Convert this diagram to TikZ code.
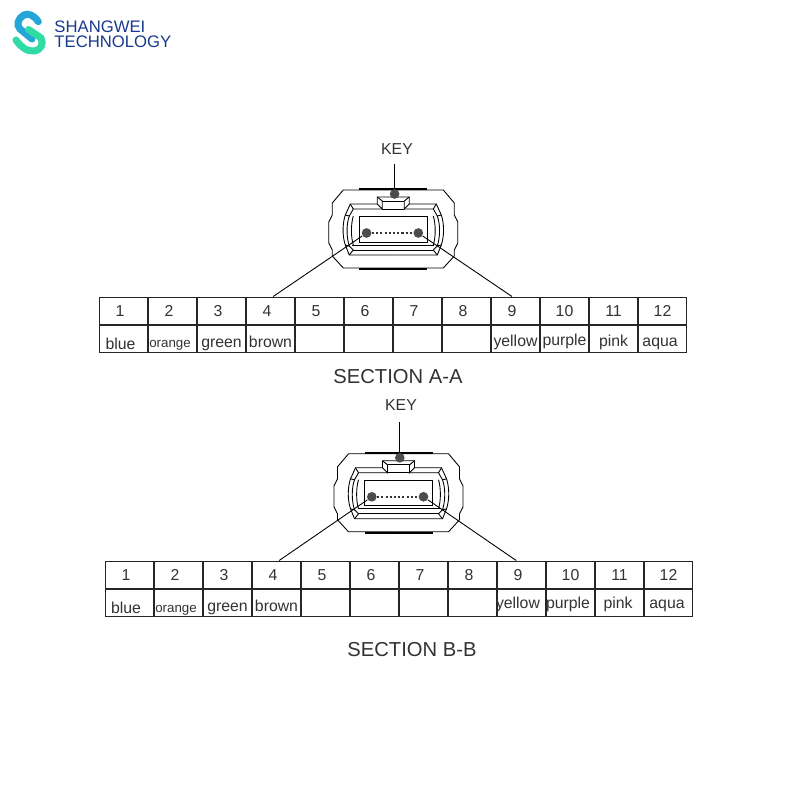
\documentclass[tikz,border=0pt]{standalone}
\usepackage{fontspec}
\setmainfont{Liberation Sans}
\usepackage{xcolor}
\definecolor{logoblue}{RGB}{36,166,216}
\definecolor{logogreen}{RGB}{48,220,165}
\definecolor{logonavy}{RGB}{24,58,140}
\definecolor{inkgray}{RGB}{50,50,50}
\newcommand{\cellword}[3]{\raisebox{\dimexpr-#1-0.6pt\relax}[0pt][0pt]{\kern-#2 #3}}
\tikzset{
    cellbox/.style={draw,black!85,line width=0.6pt,text=inkgray,minimum width=27.78pt,minimum height=15.87pt,inner sep=0pt,font=\fontsize{9}{10}\selectfont},
    numcell/.style={cellbox,execute at begin node={\kern-4pt}},
    smallcell/.style={cellbox,font=\fontsize{7.6}{9}\selectfont},
    fibredot/.style={circle,fill=black!70,inner sep=0pt,minimum size=5.5pt},
    keydot/.style={circle,fill=black!70,inner sep=0pt,minimum size=5.5pt},
    fibreline/.style={line width=1.1pt,dash pattern=on 1.2pt off 1.2pt,black!80},
    titletext/.style={text=inkgray,font=\fontsize{11.5}{13}\selectfont},
    keytext/.style={text=inkgray,font=\fontsize{9}{10}\selectfont},
    logotext/.style={text=logonavy,anchor=west,inner sep=0pt,font=\fontsize{9.5}{11}\selectfont},
    facehalf/.pic={
        \draw (0,-4) -- (50,-4) -- (61,9) -- (61,21) -- (64.5,28) -- (64.5,49) -- (61,56) -- (61,62) -- (50,74) -- (0,74);
        \draw (0,3) -- (16,3) -- (16,10) -- (43,10) -- (48,21) .. controls (51,30) and (51,42) .. (48,51) -- (44,61) -- (0,61);
        \draw (16,3) -- (11,7) -- (11,15) -- (16,10);
        \draw (0,7) -- (11,7);
        \draw (11,15) -- (40,15) -- (43,10);
        \draw (40,15) -- (44,22) -- (48,21);
        \draw (44,22) .. controls (47,30) and (47,43) .. (44,52) -- (48,51);
        \draw (44,52) -- (40,56) -- (44,61);
        \draw (40,56) -- (0,56);
        \draw (40,22) .. controls (42.5,30) and (42.5,43) .. (40,51);
        \draw (0,22.5) -- (34,22.5) -- (34,48) -- (0,48);
        \draw (0,51) -- (41,51);
        \draw (0,15) -- (11,15);
        \draw[line width=1pt] (0,-5) -- (34,-5);
        \draw[line width=1pt] (0,75) -- (34,75);
    },
    mpoface/.pic={
        \pic {facehalf};
        \pic[xscale=-1] {facehalf};
        \node[keydot] (-key) at (1.3,0) {};
        \node[fibredot] (-left) at (-26.7,39) {};
        \node[fibredot] (-right) at (25,39) {};
    }
}

\begin{document}
\begin{tikzpicture}[x=0.02cm,y=-0.02cm,line width=0.5pt]
    \useasboundingbox (0,0) rectangle (800,800);

    % logo
    \draw[logoblue,line width=4pt,line cap=round] (38.3,21.7) .. controls (34,15) and (28,13) .. (24,15) .. controls (18,18) and (16,25) .. (20,29) -- (32,39);
    \draw[logogreen,line width=4pt,line cap=round] (28.5,29.5) -- (41,38) .. controls (44,44) and (41,50) .. (34,51) .. controls (27,52) and (20,46) .. (16,40);
    \node[logotext] (brand) at (54,27) {SHANGWEI};
    \node[logotext] (tech) at (54,42) {TECHNOLOGY};

    % section A-A
    \pic (faceA) at (393.3,194) {mpoface};
    \node[keytext] (keyA) at (397,149) {KEY};
    \node[titletext] (titleA) at (398,376.5) {SECTION A-A};

    \node[numcell] (a1) at (123.5,311) {1};
    \node[numcell] (a2) at (172.5,311) {2};
    \node[numcell] (a3) at (221.5,311) {3};
    \node[numcell] (a4) at (270.5,311) {4};
    \node[numcell] (a5) at (319.5,311) {5};
    \node[numcell] (a6) at (368.5,311) {6};
    \node[numcell] (a7) at (417.5,311) {7};
    \node[numcell] (a8) at (466.5,311) {8};
    \node[numcell] (a9) at (515.5,311) {9};
    \node[cellbox] (a10) at (564.5,311) {10};
    \node[cellbox] (a11) at (613.5,311) {11};
    \node[cellbox] (a12) at (662.5,311) {12};

    \node[cellbox] (ca1) at (123.5,339) {\cellword{5.1pt}{3.4pt}{blue}};
    \node[smallcell] (ca2) at (172.5,339) {\cellword{4.5pt}{2.8pt}{orange}};
    \node[cellbox] (ca3) at (221.5,339) {\cellword{4.3pt}{0pt}{green}};
    \node[cellbox] (ca4) at (270.5,339) {\cellword{4.5pt}{0pt}{brown}};
    \node[cellbox] (ca5) at (319.5,339) {};
    \node[cellbox] (ca6) at (368.5,339) {};
    \node[cellbox] (ca7) at (417.5,339) {};
    \node[cellbox] (ca8) at (466.5,339) {};
    \node[cellbox] (ca9) at (515.5,339) {\cellword{3.4pt}{0pt}{yellow}};
    \node[cellbox] (ca10) at (564.5,339) {\cellword{3.1pt}{0pt}{purple}};
    \node[cellbox] (ca11) at (613.5,339) {\cellword{3.4pt}{0pt}{pink}};
    \node[cellbox] (ca12) at (662.5,339) {\cellword{3.4pt}{2.8pt}{aqua}};

    \draw ([yshift=-2pt]keyA.south -| faceA-key) -- (faceA-key);
    \draw[fibreline] (faceA-left) -- (faceA-right);
    \draw (faceA-left) -- ([xshift=1.5pt]a4.north);
    \draw (faceA-right) -- ([xshift=-2pt]a9.north);

    % section B-B
    \pic (faceB) at (398.5,457.8) {mpoface};
    \node[keytext] (keyB) at (401,405) {KEY};
    \node[titletext] (titleB) at (412,649.5) {SECTION B-B};

    \node[numcell] (b1) at (129.5,575) {1};
    \node[numcell] (b2) at (178.5,575) {2};
    \node[numcell] (b3) at (227.5,575) {3};
    \node[numcell] (b4) at (276.5,575) {4};
    \node[numcell] (b5) at (325.5,575) {5};
    \node[numcell] (b6) at (374.5,575) {6};
    \node[numcell] (b7) at (423.5,575) {7};
    \node[numcell] (b8) at (472.5,575) {8};
    \node[numcell] (b9) at (521.5,575) {9};
    \node[cellbox] (b10) at (570.5,575) {10};
    \node[cellbox] (b11) at (619.5,575) {11};
    \node[cellbox] (b12) at (668.5,575) {12};

    \node[cellbox] (cb1) at (129.5,603) {\cellword{5.1pt}{4pt}{blue}};
    \node[smallcell] (cb2) at (178.5,603) {\cellword{4.8pt}{2.8pt}{orange}};
    \node[cellbox] (cb3) at (227.5,603) {\cellword{4.5pt}{0pt}{green}};
    \node[cellbox] (cb4) at (276.5,603) {\cellword{4.5pt}{0pt}{brown}};
    \node[cellbox] (cb5) at (325.5,603) {};
    \node[cellbox] (cb6) at (374.5,603) {};
    \node[cellbox] (cb7) at (423.5,603) {};
    \node[cellbox] (cb8) at (472.5,603) {};
    \node[cellbox] (cb9) at (521.5,603) {\cellword{2.8pt}{4pt}{yellow}};
    \node[cellbox] (cb10) at (570.5,603) {\cellword{2.8pt}{2.8pt}{purple}};
    \node[cellbox] (cb11) at (619.5,603) {\cellword{2.8pt}{1.7pt}{pink}};
    \node[cellbox] (cb12) at (668.5,603) {\cellword{2.8pt}{1.7pt}{aqua}};

    \draw ([yshift=-3pt]keyB.south -| faceB-key) -- (faceB-key);
    \draw[fibreline] (faceB-left) -- (faceB-right);
    \draw (faceB-left) -- ([xshift=1.5pt]b4.north);
    \draw (faceB-right) -- ([xshift=-3pt]b9.north);
\end{tikzpicture}
\end{document}
